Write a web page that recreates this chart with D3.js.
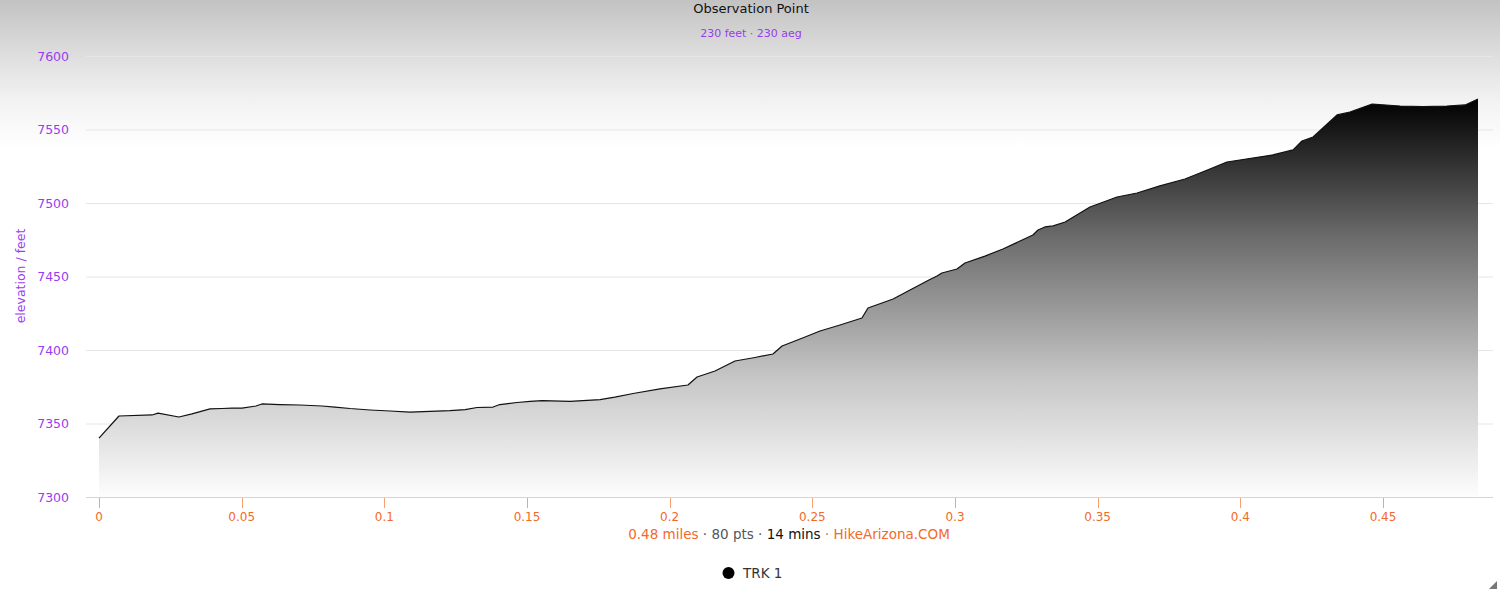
<!DOCTYPE html>
<html><head><meta charset="utf-8">
<script src="https://cdn.jsdelivr.net/npm/d3@7"></script>
<style>
html,body{margin:0;padding:0;background:#fff;}
svg{display:block;font-family:"Lucida Grande","DejaVu Sans",sans-serif;}
</style></head><body>
<div id="chart"></div>
<script>
const miles = [0.0000,0.0070,0.0186,0.0207,0.0280,0.0326,0.0389,0.0431,0.0466,0.0501,0.0550,0.0571,0.0634,0.0704,0.0782,0.0827,0.0880,0.0950,0.1020,0.1090,0.1160,0.1230,0.1283,0.1325,0.1381,0.1405,0.1465,0.1511,0.1553,0.1651,0.1756,0.1808,0.1872,0.1966,0.2064,0.2096,0.2159,0.2229,0.2299,0.2362,0.2394,0.2457,0.2527,0.2597,0.2674,0.2695,0.2783,0.2849,0.2912,0.2937,0.2954,0.3007,0.3035,0.3105,0.3168,0.3228,0.3273,0.3291,0.3315,0.3344,0.3386,0.3473,0.3568,0.3638,0.3718,0.3806,0.3876,0.3953,0.4114,0.4185,0.4216,0.4255,0.4339,0.4384,0.4462,0.4560,0.4640,0.4724,0.4788,0.4833];
const elevation = [7340.1,7355.1,7355.8,7357.1,7354.4,7356.5,7359.9,7360.2,7360.5,7360.5,7361.9,7363.3,7362.9,7362.6,7361.9,7361.2,7360.2,7359.2,7358.5,7357.8,7358.2,7358.8,7359.5,7360.9,7361.2,7362.9,7364.3,7365.0,7365.6,7365.0,7366.3,7368.0,7370.4,7373.5,7376.2,7381.6,7385.7,7392.5,7394.9,7397.3,7402.7,7407.5,7412.9,7417.0,7421.8,7428.6,7434.7,7441.5,7448.0,7450.3,7452.4,7455.1,7459.2,7463.9,7468.7,7474.1,7478.2,7481.6,7483.7,7484.4,7487.1,7497.3,7504.1,7506.8,7511.6,7516.3,7521.8,7527.9,7532.7,7536.1,7542.2,7544.9,7559.9,7561.9,7567.3,7566.0,7565.6,7566.0,7566.7,7570.7];
const yTicks = [7300,7350,7400,7450,7500,7550,7600];
const xTicks = [0,0.05,0.1,0.15,0.2,0.25,0.3,0.35,0.4,0.45];
const title = "Observation Point";
const subtitle = "230 feet · 230 aeg";
const seriesName = "TRK 1";

const W = 1500, H = 592;
const svg = d3.select("#chart").append("svg").attr("width", W).attr("height", H);
const defs = svg.append("defs");
const bg = defs.append("linearGradient").attr("id","bg").attr("x1",0).attr("y1",0).attr("x2",0).attr("y2",1);
bg.append("stop").attr("offset",0).attr("stop-color","#c2c2c2");
bg.append("stop").attr("offset",0.09).attr("stop-color","#dddddd");
bg.append("stop").attr("offset",0.17).attr("stop-color","#f2f2f2");
bg.append("stop").attr("offset",0.25).attr("stop-color","#ffffff");
bg.append("stop").attr("offset",1).attr("stop-color","#ffffff");
svg.append("rect").attr("width",W).attr("height",H).attr("fill","url(#bg)");

const x = d3.scaleLinear().domain([0, d3.max(miles)]).range([99, 1478]);
const y = d3.scaleLinear().domain([7300, 7600]).range([497, 56]);
const data = miles.map((m,i)=>({m, e: elevation[i]}));

// gridlines
svg.append("g").selectAll("line").data(yTicks.slice(1)).join("line")
  .attr("x1",86).attr("x2",1493).attr("y1",d=>y(d)+0.5).attr("y2",d=>y(d)+0.5)
  .attr("stroke","#e6e6e6").attr("stroke-width",1);

// area
const topY = y(d3.max(elevation));
const ag = defs.append("linearGradient").attr("id","ag").attr("gradientUnits","userSpaceOnUse")
  .attr("x1",0).attr("y1",topY).attr("x2",0).attr("y2",y(7300));
ag.append("stop").attr("offset",0).attr("stop-color","#000");
ag.append("stop").attr("offset",0.35).attr("stop-color","#6c6c6c");
ag.append("stop").attr("offset",0.7).attr("stop-color","#c6c6c6");
ag.append("stop").attr("offset",1).attr("stop-color","#fdfdfd");
svg.append("path").datum(data)
  .attr("d", d3.area().x(d=>x(d.m)).y0(y(7300)).y1(d=>y(d.e)))
  .attr("fill","url(#ag)");
svg.append("path").datum(data)
  .attr("d", d3.line().x(d=>x(d.m)).y(d=>y(d.e)))
  .attr("fill","none").attr("stroke","#111").attr("stroke-width",1.2).attr("stroke-linejoin","round");

// x axis
svg.append("line").attr("x1",86).attr("x2",1493).attr("y1",497.5).attr("y2",497.5)
  .attr("stroke","#ccd6eb").attr("stroke-width",1);
const xa = svg.append("g");
xa.selectAll("line").data(xTicks).join("line")
  .attr("x1",d=>Math.round(x(d))+0.5).attr("x2",d=>Math.round(x(d))+0.5)
  .attr("y1",498).attr("y2",508).attr("stroke","#f4a070").attr("stroke-width",1);
xa.selectAll("text").data(xTicks).join("text")
  .attr("x",d=>x(d)).attr("y",521).attr("text-anchor","middle")
  .attr("font-size",12).attr("fill","#f26a2a").text(d=>d3.format("")(d));

// y axis labels
svg.append("g").selectAll("text").data(yTicks).join("text")
  .attr("x",69).attr("y",d=>y(d)+4.5).attr("text-anchor","end")
  .attr("font-size",12.5).attr("fill","#9a3cf0").text(d=>d);
svg.append("text").attr("transform","translate(25,276) rotate(-90)")
  .attr("text-anchor","middle").attr("font-size",12.5).attr("fill","#9a3cf0").text("elevation / feet");

// title
svg.append("text").attr("x",751).attr("y",13).attr("text-anchor","middle")
  .attr("font-size",13).attr("fill","#111").text(title);
svg.append("text").attr("x",751).attr("y",37).attr("text-anchor","middle")
  .attr("font-size",11).attr("fill","#9a3cf0").text(subtitle);

// footer
const ft = svg.append("text").attr("x",789).attr("y",539).attr("text-anchor","middle").attr("font-size",13.5);
ft.append("tspan").attr("fill","#f26a2a").text("0.48 miles");
ft.append("tspan").attr("fill","#555").text(" · 80 pts · ");
ft.append("tspan").attr("fill","#111").text("14 mins");
ft.append("tspan").attr("fill","#f26a2a").text(" · HikeArizona.COM");

// legend
svg.append("circle").attr("cx",728.5).attr("cy",573).attr("r",6).attr("fill","#000");
svg.append("text").attr("x",743).attr("y",578).attr("font-size",13.5).attr("fill","#333").text(seriesName);

// resize grip
svg.append("path").attr("d","M1497,581 L1497,589 L1489,589 Z").attr("fill","#777");
</script>
</body></html>
